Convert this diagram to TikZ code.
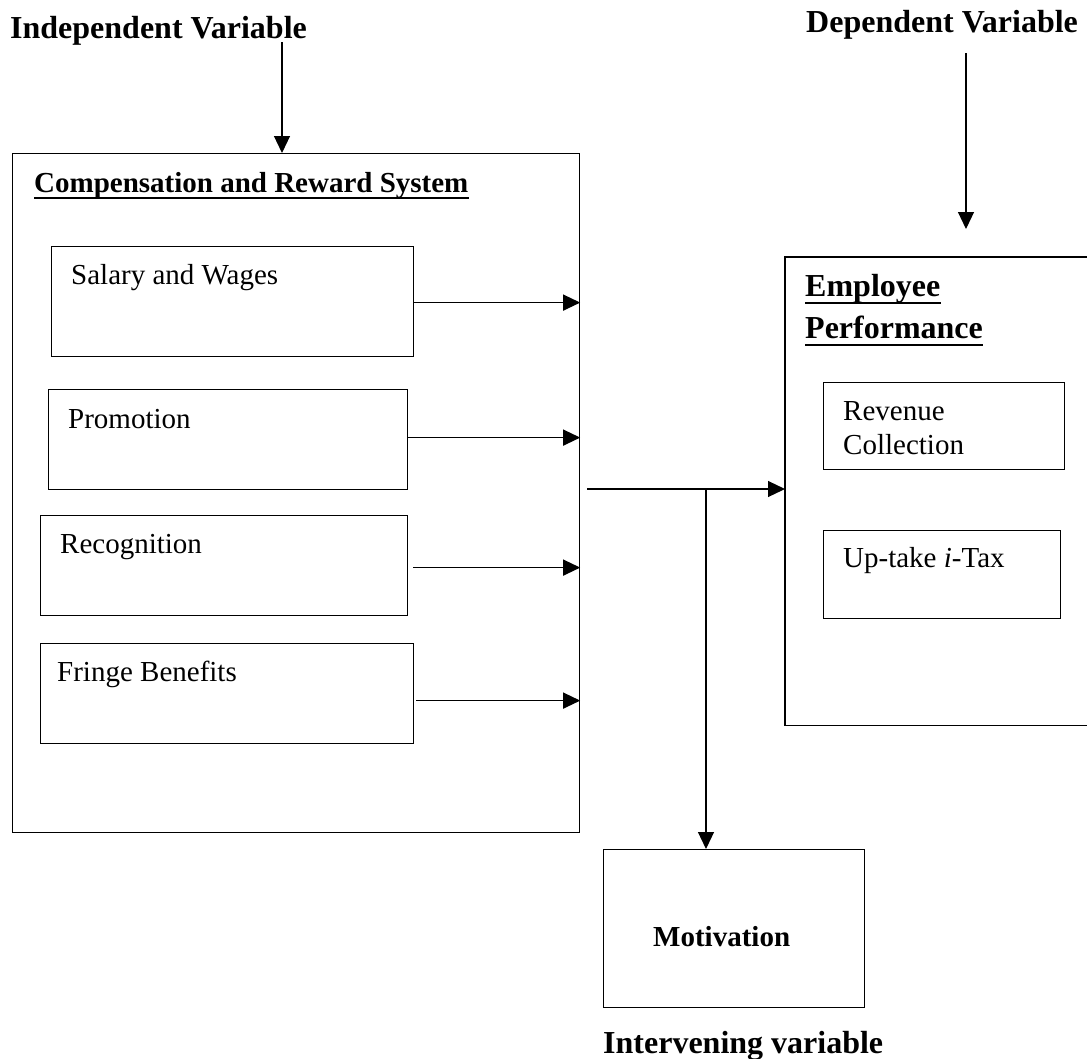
\documentclass[tikz,border=0pt]{standalone}
\usepackage{fontspec}
\setmainfont{Liberation Serif}
\usetikzlibrary{arrows.meta}
\begin{document}
\begin{tikzpicture}[x=1pt,y=-1pt,
  box/.style={draw,line width=1.2pt,rectangle,inner sep=0pt,anchor=north west},
  txt/.style={inner sep=0pt,anchor=base west,font=\fontsize{29}{34}\selectfont},
  head/.style={inner sep=0pt,anchor=base west,font=\fontsize{32}{38}\selectfont\bfseries},
  subhead/.style={inner sep=0pt,anchor=base west,font=\fontsize{29}{34}\selectfont\bfseries},
  uline/.style={line width=2.8pt},
  arr/.style={line width=1.2pt,-{Triangle[length=17pt,width=16pt]}},
  conn/.style={line width=1.2pt}]
\useasboundingbox (0,0) rectangle (1087,1058);
\fill[white] (0,0) rectangle (1087,1058);

% boxes
\node[box,minimum width=567pt,minimum height=679pt] (crs) at (12,153) {};
\node[box,minimum width=362pt,minimum height=110pt] (sal) at (51,246) {};
\node[box,minimum width=359pt,minimum height=100pt] (pro) at (48,389) {};
\node[box,minimum width=367pt,minimum height=100pt] (rec) at (40,515) {};
\node[box,minimum width=373pt,minimum height=100pt] (fri) at (40,643) {};
\node[rectangle,inner sep=0pt,anchor=north west,minimum width=302pt,minimum height=468pt] (ep) at (785,257) {};
\draw[conn] (ep.north east) -- (ep.north west) -- (ep.south west) -- (ep.south east);
\node[box,minimum width=241pt,minimum height=87pt] (rev) at (823,382) {};
\node[box,minimum width=237pt,minimum height=88pt] (upt) at (823,530) {};
\node[box,minimum width=261pt,minimum height=158pt] (mot) at (603,849) {};

% texts
\node[head] (iv) at (10,38) {Independent Variable};
\node[head] (dv) at (806,32) {Dependent Variable};
\node[subhead] (comp) at (34,192) {Compensation and Reward System};
\draw[uline] ([yshift=-6pt]comp.base west) -- ([yshift=-6pt]comp.base east);
\node[txt] (salt) at (71,284) {Salary and Wages};
\node[txt] (prot) at (68,428) {Promotion};
\node[txt] (rect) at (60,553) {Recognition};
\node[txt] (frit) at (57,681) {Fringe Benefits};
\node[head] (emp) at (805,296) {Employee};
\draw[uline] ([yshift=-7pt]emp.base west) -- ([yshift=-7pt]emp.base east);
\node[head] (perf) at (805,338) {Performance};
\draw[uline] ([yshift=-7pt]perf.base west) -- ([yshift=-7pt]perf.base east);
\node[txt] (revt) at (843,420) {Revenue};
\node[txt] (colt) at (843,454) {Collection};
\node[txt] (uptt) at (843,567) {Up-take \textit{i}-Tax};
\node[subhead] (mott) at (653,946) {Motivation};
\node[head] (inv) at (603,1053) {Intervening variable};

% connectors
\coordinate (ivs) at (282,42);
\draw[arr] (ivs) -- (ivs |- crs.north);
\coordinate (dvs) at (966,53);
\coordinate (dve) at (966,229);
\draw[arr] (dvs) -- (dve);
\draw[arr] ([yshift=-1pt]sal.east) -- ([yshift=-1pt]sal.east -| crs.east);
\draw[arr] ([yshift=2pt]pro.east) -- ([yshift=2pt]pro.east -| crs.east);
\draw[arr] ([xshift=5pt,yshift=-2pt]rec.east) -- ([yshift=-2pt]rec.east -| crs.east);
\draw[arr] ([xshift=2pt,yshift=-7pt]fri.east) -- ([yshift=-7pt]fri.east -| crs.east);
\coordinate (ms) at (587,489);
\coordinate (br) at (706,489);
\draw[arr] (ms) -- (ms -| ep.west);
\draw[arr] (br) -- (br |- mot.north);
\end{tikzpicture}
\end{document}
